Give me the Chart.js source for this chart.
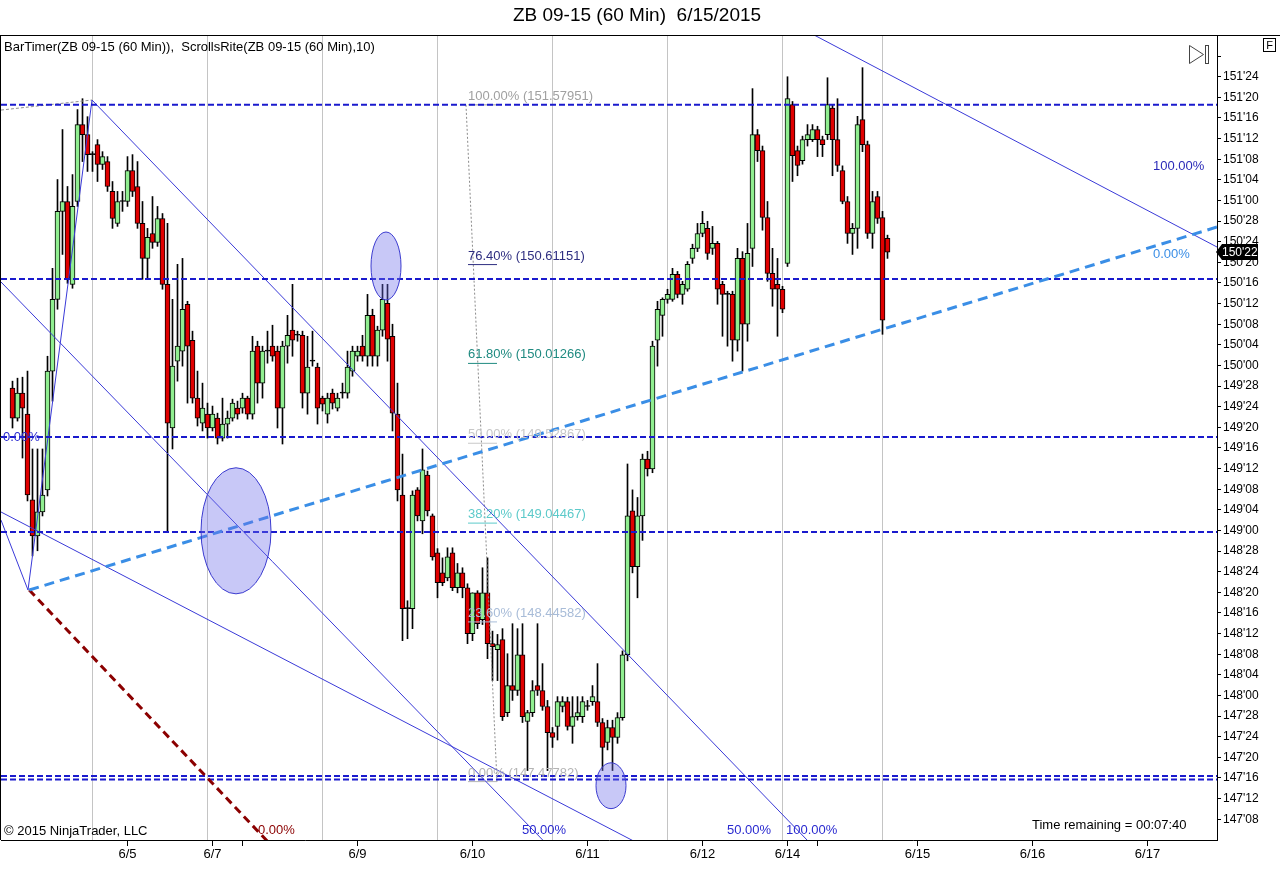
<!DOCTYPE html>
<html><head><meta charset="utf-8">
<script src="https://cdn.jsdelivr.net/npm/chart.js@4.4.1/dist/chart.umd.min.js"></script>
<style>html,body{margin:0;padding:0;background:#fff;overflow:hidden}#wrap{width:1280px;height:895px}</style>
</head><body><div id="wrap"><canvas id="c" width="1280" height="895"></canvas></div>
<script>
// ---- data (ZB 09-15, 60 min bars, prices in points) ----
const OPEN = [149.863,149.681,149.832,149.705,149.185,148.967,149.113,149.246,149.966,150.401,150.934,150.994,150.492,150.994,151.460,151.399,151.278,151.339,151.218,151.236,151.055,150.861,150.994,150.994,151.182,151.085,150.861,150.649,150.800,150.746,150.891,150.492,149.621,150.026,150.087,150.371,150.153,149.802,149.651,149.705,149.621,149.681,149.560,149.645,149.681,149.742,149.742,149.802,149.705,150.117,149.893,150.087,150.117,150.087,149.742,150.117,150.214,150.183,150.183,149.832,150.026,149.990,149.802,149.705,149.832,149.742,149.832,149.832,149.966,150.056,150.117,150.056,150.304,150.056,150.214,150.377,150.177,149.705,149.215,148.526,148.526,149.246,149.058,149.336,149.088,148.864,148.743,148.713,148.864,148.653,148.743,148.653,148.375,148.622,148.460,148.622,148.314,148.278,148.338,147.896,148.060,148.030,148.247,147.842,147.896,148.060,148.030,147.933,147.775,147.812,147.933,147.963,147.812,147.872,147.872,147.933,147.963,147.963,147.836,147.715,147.806,147.745,147.866,148.247,149.119,148.780,149.088,149.433,149.373,150.153,150.304,150.401,150.401,150.552,150.431,150.462,150.649,150.710,150.800,150.831,150.710,150.740,150.492,150.431,150.431,150.153,150.649,150.250,150.710,151.399,151.302,150.897,150.558,150.492,150.462,150.619,151.581,151.302,151.242,151.369,151.369,151.430,151.369,151.399,151.560,151.369,151.182,150.994,150.800,150.831,151.490,151.339,150.800,151.024,150.897,150.770];
const HIGH = [149.905,149.923,149.929,149.966,149.494,149.494,149.494,150.056,150.589,151.127,151.430,151.085,151.157,151.551,151.617,151.508,151.296,151.369,151.296,151.266,151.115,151.055,151.055,151.266,151.278,151.236,150.994,150.831,151.024,150.964,150.921,150.861,150.401,150.613,150.649,150.389,150.208,149.966,149.893,149.772,149.754,149.711,149.802,149.724,149.796,149.784,149.832,149.814,150.177,150.147,150.117,150.208,150.244,150.117,150.147,150.304,150.492,150.208,150.208,150.177,150.208,150.014,149.814,149.832,149.857,149.832,149.893,150.087,150.117,150.117,150.183,150.431,150.341,150.238,150.492,150.492,150.250,149.893,149.463,148.574,149.240,149.260,149.494,149.360,149.100,148.890,148.834,148.895,148.895,148.800,148.774,148.677,148.622,148.635,148.774,148.834,148.390,148.370,148.405,148.253,148.435,148.405,148.435,147.910,148.090,148.435,148.193,147.970,147.806,147.993,147.993,147.990,147.993,147.993,147.993,147.970,148.060,148.193,147.860,147.850,147.850,147.896,148.270,149.403,149.246,149.200,149.463,149.480,150.147,150.389,150.410,150.462,150.589,150.570,150.510,150.630,150.735,150.861,150.934,150.874,150.843,150.752,150.510,150.450,150.450,150.710,150.690,150.861,151.678,151.430,151.330,150.994,150.710,150.649,150.480,151.750,151.600,151.330,151.390,151.460,151.460,151.450,151.390,151.744,151.581,151.617,151.210,151.024,150.861,151.510,151.805,151.360,151.055,151.055,150.934,150.790];
const LOW = [149.621,149.663,149.439,149.179,148.846,148.877,149.088,149.209,149.784,150.341,150.673,150.498,150.468,150.964,151.236,151.176,151.176,151.115,151.188,151.055,150.831,150.843,150.934,150.964,151.024,150.831,150.522,150.522,150.710,150.722,150.462,148.998,149.494,149.905,149.996,149.772,149.772,149.633,149.603,149.560,149.603,149.524,149.542,149.560,149.663,149.675,149.711,149.675,149.675,149.772,149.802,150.014,150.026,149.621,149.524,150.014,150.056,150.147,149.742,149.705,149.996,149.645,149.724,149.651,149.736,149.724,149.802,149.802,149.935,150.026,150.026,149.996,149.996,149.996,150.177,150.026,149.603,149.179,148.332,148.344,148.405,149.058,148.980,149.088,148.820,148.592,148.665,148.695,148.635,148.622,148.592,148.314,148.332,148.405,148.430,148.223,148.090,148.090,147.848,147.872,147.970,148.000,147.836,147.545,147.872,148.000,147.910,147.545,147.685,147.730,147.900,147.790,147.710,147.850,147.836,147.910,147.940,147.812,147.545,147.670,147.545,147.710,147.850,148.210,148.743,148.592,148.940,149.330,149.350,149.996,150.177,150.377,150.389,150.410,150.371,150.450,150.619,150.690,150.780,150.643,150.673,150.371,150.177,150.117,150.026,150.087,149.966,150.147,150.600,151.236,150.820,150.510,150.359,150.177,150.320,150.600,151.115,151.150,151.220,151.330,151.357,151.266,151.266,151.369,151.150,151.176,150.980,150.740,150.673,150.710,151.296,150.770,150.710,150.861,150.189,150.649];
const CLOSE = [149.681,149.832,149.742,149.215,148.967,149.113,149.215,149.966,150.401,150.934,150.994,150.522,150.964,151.460,151.399,151.278,151.278,151.218,151.266,151.085,150.891,150.994,150.994,151.182,151.055,150.861,150.649,150.776,150.746,150.891,150.492,149.651,149.996,150.117,150.341,150.117,149.802,149.681,149.742,149.621,149.705,149.560,149.645,149.681,149.772,149.705,149.802,149.705,150.087,149.893,150.087,150.087,150.056,149.742,150.117,150.183,150.153,150.183,149.832,149.990,150.026,149.742,149.766,149.802,149.772,149.802,149.832,149.990,150.087,150.087,150.056,150.304,150.056,150.214,150.401,150.159,149.711,149.246,148.526,148.526,149.215,149.088,149.367,149.119,148.840,148.683,148.683,148.840,148.653,148.743,148.653,148.375,148.622,148.435,148.622,148.314,148.296,148.308,147.872,148.060,148.030,148.247,147.872,147.896,148.030,148.030,147.933,147.775,147.745,147.963,147.963,147.812,147.872,147.896,147.963,147.933,147.993,147.836,147.685,147.806,147.745,147.866,148.247,149.088,148.780,149.088,149.433,149.373,150.117,150.341,150.401,150.431,150.552,150.431,150.492,150.613,150.710,150.800,150.861,150.679,150.740,150.462,150.431,150.431,150.153,150.649,150.250,150.679,151.399,151.302,150.897,150.558,150.462,150.462,150.341,151.617,151.272,151.212,151.369,151.399,151.430,151.369,151.339,151.581,151.369,151.212,150.994,150.800,150.831,151.460,151.339,150.800,150.994,150.891,150.274,150.6875];

// price axis ticks (32nds)
const Y_TICK_VALUES = [147.25,147.375,147.5,147.625,147.75,147.875,148,148.125,148.25,148.375,148.5,148.625,148.75,148.875,149,149.125,149.25,149.375,149.5,149.625,149.75,149.875,150,150.125,150.25,150.375,150.5,150.625,150.75,150.875,151,151.125,151.25,151.375,151.5,151.625,151.75,151.875];
const Y_TICK_LABELS = ["147'08","147'12","147'16","147'20","147'24","147'28","148'00","148'04","148'08","148'12","148'16","148'20","148'24","148'28","149'00","149'04","149'08","149'12","149'16","149'20","149'24","149'28","150'00","150'04","150'08","150'12","150'16","150'20","150'24","150'28","151'00","151'04","151'08","151'12","151'16","151'20","151'24",""];
// time axis (bar index of each date tick)
const X_TICK_INDEX = [23,40,46,69,92,115,138,155,161,181,204,227];
const X_TICK_LABELS = ['6/5','6/7','','6/9','6/10','6/11','6/12','6/14','','6/15','6/16','6/17'];
const X_GRID_INDEX = [16,39,62,85,108,131,154,174];
const LAST_PRICE_LABEL = "150'22";

// drawing objects (in bar-index / price units)
const H_LEVELS = [151.5795,150.524,149.566,148.990,147.512,147.490];
const FIB_LEVELS = [151.57951,150.61151,150.01266,149.52867,149.04467,148.44582,147.47782];
const FIB_TEXT = ['100.00% (151.57951)','76.40% (150.61151)','61.80% (150.01266)','50.00% (149.52867)','38.20% (149.04467)','23.60% (148.44582)','0.00% (147.47782)'];

const X_MIN = -2.3, X_MAX = 240.9, Y_MIN = 147.124, Y_MAX = 152.003;
const FONT = 'Arial, "Liberation Sans", sans-serif';

const FIB_COLORS = ['#a0a0a0','#2e2e80','#1f8a80','#c8c8c8','#5ccaca','#a8bcd8','#b4b4b4'];
const ELLIPSES = [
  {x:74.7, y:150.603, rx:3.0, ry:0.206},
  {x:44.7, y:148.998, rx:7.0, ry:0.382},
  {x:119.7, y:147.453, rx:3.0, ry:0.139}
];
const TEXTS = [
  {t:'0.00%', x:-1.9, y:149.566, c:'#2a2ad0'},
  {t:'100.00%', x:228.1, y:151.208, c:'#2a2ab8'},
  {t:'0.00%', x:228.1, y:150.675, c:'#3a8ee6'},
  {t:'0.00%', x:49.1, y:147.185, c:'#8b0000'},
  {t:'50.00%', x:101.9, y:147.185, c:'#2a2ad0'},
  {t:'50.00%', x:142.9, y:147.185, c:'#2a2ad0'},
  {t:'100.00%', x:154.7, y:147.185, c:'#2a2ad0'}
];

function seg(p1, p2, color, width, dash, order){
  return {type:'line', data:[{x:p1[0],y:p1[1]},{x:p2[0],y:p2[1]}], borderColor:color, borderWidth:width,
    borderDash:dash||[], pointRadius:0, fill:false, clip:0, order:order===undefined?0:order, tension:0};
}

const datasets = [];
datasets.push({type:'bar', label:'body',
  data: OPEN.map((o,i)=>({x:i, y:[Math.min(o,CLOSE[i]), Math.max(o,CLOSE[i])]})),
  backgroundColor: OPEN.map((o,i)=> CLOSE[i]>o ? '#90ee90' : (CLOSE[i]<o ? '#e00000' : '#000000')),
  borderColor:'#000', borderWidth:1, borderSkipped:false, barThickness:5, minBarLength:1, grouped:false, order:5});
datasets.push({type:'bar', label:'wick',
  data: HIGH.map((h,i)=>({x:i, y:[LOW[i], h]})),
  backgroundColor:'#000', borderWidth:0, barThickness:1, grouped:false, order:6});

H_LEVELS.forEach(v=>datasets.push(seg([X_MIN,v],[X_MAX,v],'#1a1acd',2,[6,3],1)));
FIB_LEVELS.forEach((v,k)=>datasets.push(seg([91.1,v],[96.9,v],FIB_COLORS[k],1,[],2)));
datasets.push(seg([90.7,151.5795],[96.9,147.4778],'#8c8c8c',1,[2,2],2));
datasets.push(seg([X_MIN,151.548],[15.9,151.609],'#909090',1,[3,2],2));
// thin blue trend/fan lines
datasets.push(seg([3.1,148.639],[15.9,151.609],'#3a3ad8',1,[],1));
datasets.push(seg([X_MIN,149.063],[3.1,148.639],'#3a3ad8',1,[],1));
datasets.push(seg([X_MIN,150.506],[107.9,147.066],'#3a3ad8',1,[],1));
datasets.push(seg([15.9,151.609],[160.5,147.074],'#3a3ad8',1,[],1));
datasets.push(seg([X_MIN,149.112],[126.5,147.082],'#3a3ad8',1,[],1));
datasets.push(seg([160.5,152.0],[X_MAX,150.718],'#3a3ad8',1,[],1));
// thick dashed lines
datasets.push(seg([3.34,148.639],[X_MAX,150.839],'#3a8ee6',3,[10,6],0));
datasets.push(seg([3.34,148.639],[51.9,147.087],'#8b0000',3,[8,5],0));

const overlay = {
  id:'overlay',
  beforeDraw(chart){
    const c=chart.ctx; c.save(); c.fillStyle='#fff'; c.fillRect(0,0,chart.width,chart.height); c.restore();
  },
  beforeDatasetsDraw(chart){
    const {ctx, chartArea:a, scales:{x}} = chart;
    ctx.save(); ctx.strokeStyle='#c4c4c4'; ctx.lineWidth=1;
    X_GRID_INDEX.forEach(v=>{
      const px=Math.floor(x.getPixelForValue(v))+0.5;
      ctx.beginPath(); ctx.moveTo(px,a.top); ctx.lineTo(px,a.bottom); ctx.stroke();
    });
    ctx.restore();
  },
  afterDatasetsDraw(chart){
    const {ctx, chartArea:a, scales:{x,y}} = chart;
    ctx.save();
    ctx.beginPath(); ctx.rect(a.left,a.top,a.right-a.left,a.bottom-a.top); ctx.clip();
    // ellipses
    ELLIPSES.forEach(e=>{
      const cx=x.getPixelForValue(e.x), cy=y.getPixelForValue(e.y);
      const rx=Math.abs(x.getPixelForValue(e.x+e.rx)-cx), ry=Math.abs(y.getPixelForValue(e.y+e.ry)-cy);
      ctx.beginPath(); ctx.ellipse(cx,cy,rx,ry,0,0,Math.PI*2);
      ctx.fillStyle='rgba(110,110,235,0.38)'; ctx.fill();
      ctx.strokeStyle='#3c3cd0'; ctx.lineWidth=1; ctx.stroke();
    });
    // fib labels
    ctx.font='13px '+FONT; ctx.textBaseline='alphabetic'; ctx.textAlign='left';
    FIB_LEVELS.forEach((v,k)=>{
      ctx.fillStyle=FIB_COLORS[k];
      ctx.fillText(FIB_TEXT[k], x.getPixelForValue(91.1), y.getPixelForValue(v)-5);
    });
    ctx.font='13px '+FONT; ctx.textBaseline='middle';
    TEXTS.forEach(t=>{ ctx.fillStyle=t.c; ctx.fillText(t.t, x.getPixelForValue(t.x), y.getPixelForValue(t.y)); });
    ctx.restore();
  },
  afterDraw(chart){
    const {ctx, chartArea:a, scales:{x,y}} = chart;
    ctx.save();
    // frame
    ctx.strokeStyle='#000'; ctx.lineWidth=1;
    ctx.beginPath(); ctx.moveTo(0,a.top+0.5); ctx.lineTo(1280,a.top+0.5); ctx.stroke();
    ctx.beginPath(); ctx.moveTo(0.5,a.top); ctx.lineTo(0.5,a.bottom); ctx.stroke();
    // title & texts
    ctx.fillStyle='#000'; ctx.textBaseline='middle';
    ctx.font='19px '+FONT; ctx.textAlign='center';
    ctx.fillText('ZB 09-15 (60 Min)  6/15/2015', 637, 16);
    ctx.textAlign='left'; ctx.font='13px '+FONT;
    ctx.fillText('BarTimer(ZB 09-15 (60 Min)),  ScrollsRite(ZB 09-15 (60 Min),10)', 4, 47);
    ctx.fillText('\u00a9 2015 NinjaTrader, LLC', 4, 831);
    ctx.fillText('Time remaining = 00:07:40', 1032, 825);
    // last price marker
    const py=Math.round(y.getPixelForValue(CLOSE[CLOSE.length-1]));
    ctx.fillStyle='#000';
    ctx.beginPath(); ctx.moveTo(a.right-1,py); ctx.lineTo(a.right+5,py-8); ctx.lineTo(1258,py-8); ctx.lineTo(1258,py+8); ctx.lineTo(a.right+5,py+8); ctx.closePath(); ctx.fill();
    ctx.fillStyle='#fff'; ctx.font='12px '+FONT; ctx.textAlign='left';
    ctx.fillText(LAST_PRICE_LABEL, a.right+5, py+1);
    // scroll icon
    ctx.strokeStyle='#444'; ctx.lineWidth=1;
    ctx.beginPath(); ctx.moveTo(1189.5,45.5); ctx.lineTo(1203.5,54.5); ctx.lineTo(1189.5,63.5); ctx.closePath(); ctx.stroke();
    ctx.strokeRect(1205.5,45.5,3,18);
    // F box
    ctx.strokeStyle='#000'; ctx.strokeRect(1263.5,38.5,12,13);
    ctx.fillStyle='#000'; ctx.font='11px '+FONT; ctx.textAlign='center';
    ctx.fillText('F', 1269.5, 45.5);
    ctx.restore();
  }
};

new Chart(document.getElementById('c'), {
  data:{datasets},
  options:{
    responsive:false, devicePixelRatio:1, animation:false,
    layout:{padding:{top:35,left:1,right:0,bottom:0}},
    plugins:{legend:{display:false}, tooltip:{enabled:false}, title:{display:false}},
    scales:{
      x:{type:'linear', min:X_MIN, max:X_MAX, offset:false,
        grid:{display:true, offset:false, drawOnChartArea:false, drawTicks:true, tickLength:6, color:'#000'},
        border:{display:true, color:'#000'},
        afterBuildTicks:(s)=>{ s.ticks = X_TICK_INDEX.map(v=>({value:v})); },
        ticks:{autoSkip:false, maxRotation:0, minRotation:0, color:'#000', font:{family:FONT,size:13}, padding:1,
          callback:(v)=>{ const k=X_TICK_INDEX.indexOf(v); return k>=0?X_TICK_LABELS[k]:''; }},
        afterFit:(s)=>{ s.height=55; }
      },
      y:{type:'linear', position:'right', min:Y_MIN, max:Y_MAX,
        grid:{display:true, offset:false, drawOnChartArea:false, drawTicks:true, tickLength:4, color:'#000'},
        border:{display:true, color:'#000'},
        afterBuildTicks:(s)=>{ s.ticks = Y_TICK_VALUES.map(v=>({value:v})); },
        ticks:{autoSkip:false, color:'#000', font:{family:FONT,size:12}, padding:2,
          callback:(v)=>{ const k=Y_TICK_VALUES.indexOf(v); return k>=0?Y_TICK_LABELS[k]:''; }},
        afterFit:(s)=>{ s.width=63; }
      }
    }
  },
  plugins:[overlay]
});
</script></body></html>
